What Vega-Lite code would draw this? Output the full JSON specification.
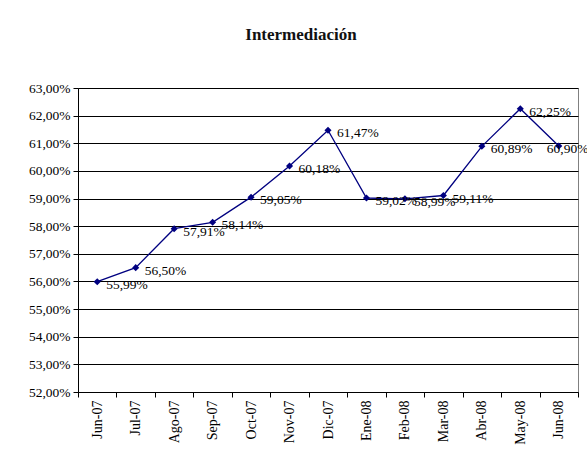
{
  "$schema": "https://vega.github.io/schema/vega-lite/v6.json",
  "width": 500,
  "height": 304,
  "autosize": {"type": "none"},
  "padding": {"left": 78, "top": 88, "right": 9, "bottom": 66},
  "background": "white",
  "config": {
    "locale": {"number": {"decimal": ",", "thousands": ".", "grouping": [3], "currency": ["", " €"]}},
    "font": "Liberation Serif",
    "view": {"stroke": "#808080", "strokeWidth": 1}
  },
  "title": {
    "text": "Intermediación",
    "font": "Liberation Serif",
    "fontSize": 17,
    "fontWeight": "bold",
    "color": "#111111",
    "offset": 37,
    "dx": -27
  },
  "data": {
    "values": [
      {"mes": "Jun-07", "valor": 0.5599},
      {"mes": "Jul-07", "valor": 0.5650},
      {"mes": "Ago-07", "valor": 0.5791},
      {"mes": "Sep-07", "valor": 0.5814},
      {"mes": "Oct-07", "valor": 0.5905},
      {"mes": "Nov-07", "valor": 0.6018},
      {"mes": "Dic-07", "valor": 0.6147},
      {"mes": "Ene-08", "valor": 0.5902},
      {"mes": "Feb-08", "valor": 0.5899},
      {"mes": "Mar-08", "valor": 0.5911},
      {"mes": "Abr-08", "valor": 0.6089},
      {"mes": "May-08", "valor": 0.6225},
      {"mes": "Jun-08", "valor": 0.6090}
    ]
  },
  "encoding": {
    "x": {
      "field": "mes",
      "type": "nominal",
      "sort": null,
      "scale": {"paddingInner": 0, "paddingOuter": 0},
      "axis": {
        "title": null,
        "labelAngle": -90,
        "labelFontSize": 14,
        "labelColor": "black",
        "labelFont": "Liberation Serif",
        "tickBand": "extent",
        "tickColor": "black",
        "tickSize": 5,
        "domainColor": "black",
        "labelPadding": 3
      }
    },
    "y": {
      "field": "valor",
      "type": "quantitative",
      "scale": {"domain": [0.52, 0.63], "nice": false, "zero": false},
      "axis": {
        "title": null,
        "format": ".2%",
        "values": [0.52, 0.53, 0.54, 0.55, 0.56, 0.57, 0.58, 0.59, 0.60, 0.61, 0.62, 0.63],
        "labelFontSize": 13.5,
        "labelColor": "black",
        "labelFont": "Liberation Serif",
        "tickColor": "black",
        "tickSize": 5,
        "domainColor": "black",
        "gridColor": "black",
        "gridOpacity": 1,
        "gridWidth": 1,
        "labelPadding": 3
      }
    }
  },
  "layer": [
    {"mark": {"type": "line", "color": "#000080", "strokeWidth": 1.3}},
    {"mark": {"type": "point", "shape": "diamond", "filled": true, "color": "#000080", "size": 50, "opacity": 1}},
    {
      "transform": [{"filter": "datum.mes !== 'Jun-08'"}],
      "mark": {"type": "text", "align": "left", "baseline": "middle", "dx": 9, "dy": 3, "fontSize": 13.5, "color": "black", "font": "Liberation Serif"},
      "encoding": {"text": {"field": "valor", "type": "quantitative", "format": ".2%"}}
    },
    {
      "transform": [{"filter": "datum.mes === 'Jun-08'"}],
      "mark": {"type": "text", "align": "left", "baseline": "middle", "dx": -12, "dy": 3, "fontSize": 13.5, "color": "black", "font": "Liberation Serif"},
      "encoding": {"text": {"field": "valor", "type": "quantitative", "format": ".2%"}}
    }
  ]
}
